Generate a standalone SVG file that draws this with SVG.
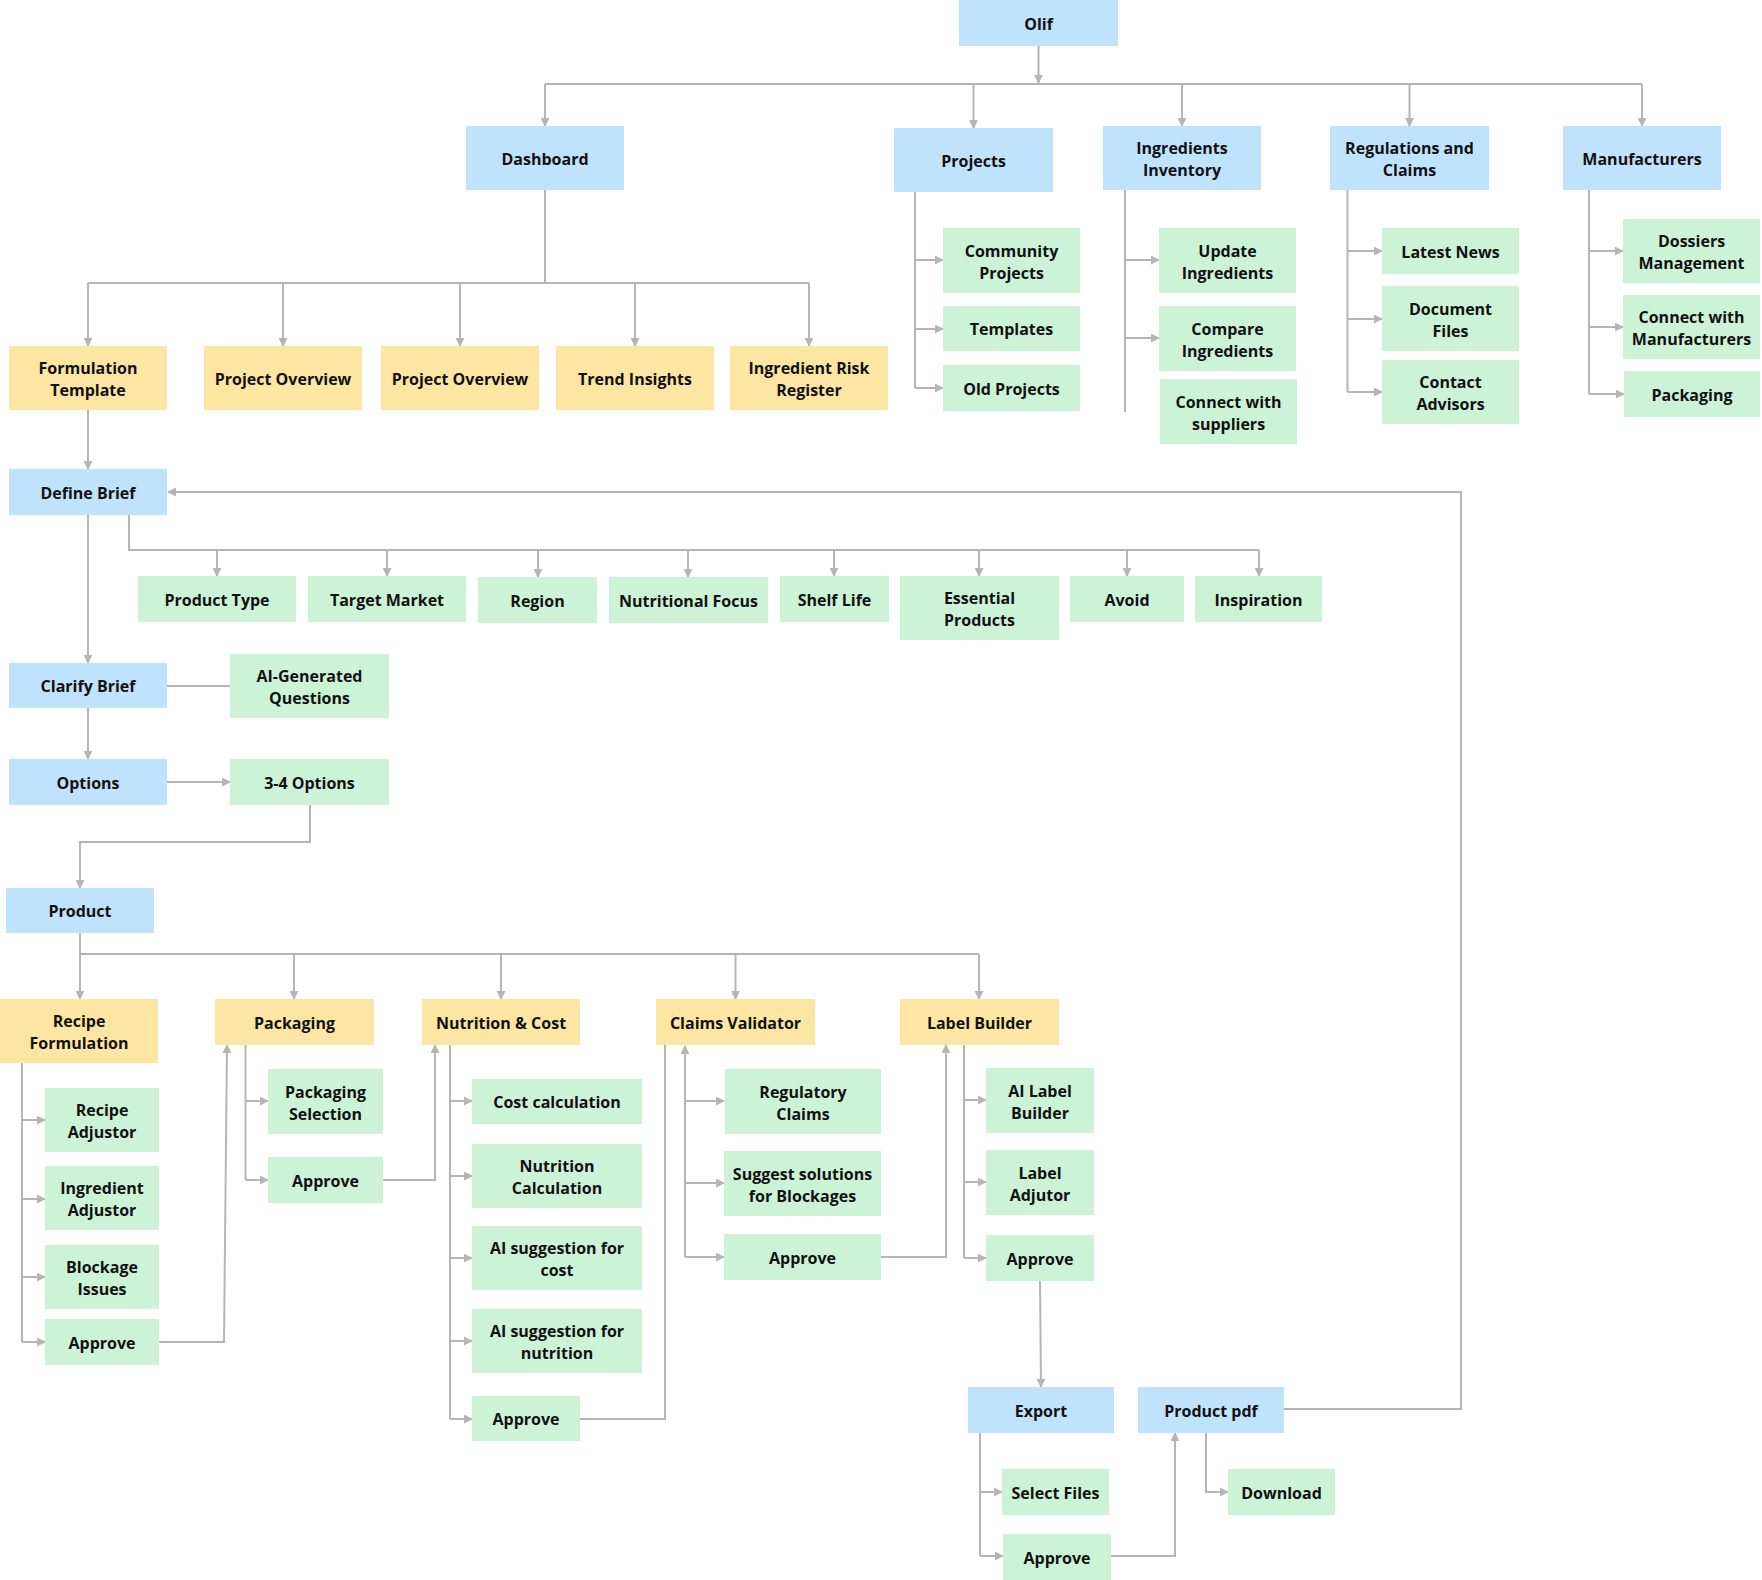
<svg xmlns="http://www.w3.org/2000/svg" width="1762" height="1580" viewBox="0 0 1762 1580">
<defs>
<marker id="ah" viewBox="0 0 10 10" refX="9" refY="5" markerWidth="9" markerHeight="9" markerUnits="userSpaceOnUse" orient="auto">
<path d="M0,0 L10,5 L0,10 z" fill="#b5b5b5"/>
</marker>
<style>
.b{fill:#bfe3fc}
.y{fill:#fde6a3}
.g{fill:#cdf3d6}
text{font-family:"Open Sans","Noto Sans","Liberation Sans",sans-serif;font-weight:700;font-size:16px;fill:#111;text-anchor:middle}
.c path,.c line{fill:none;stroke:#b5b5b5;stroke-width:2}
.a{marker-end:url(#ah)}
</style>
</defs>
<rect width="1762" height="1580" fill="#fff"/>

<g class="c" id="connectors">
<path class="a" d="M1038.5,46V83"/>
<path d="M545,84H1642"/>
<path class="a" d="M545,84V126"/>
<path class="a" d="M973.5,84V128"/>
<path class="a" d="M1182,84V126"/>
<path class="a" d="M1409.5,84V126"/>
<path class="a" d="M1642,84V126"/>

<path d="M545,190V283M88,283H809"/>
<path class="a" d="M88,283V346"/>
<path class="a" d="M283,283V346"/>
<path class="a" d="M460,283V346"/>
<path class="a" d="M635,283V346"/>
<path class="a" d="M809,283V346"/>

<path d="M915,192V388"/>
<path class="a" d="M915,260H943"/>
<path class="a" d="M915,329H943"/>
<path class="a" d="M915,388H943"/>

<path d="M1125,190V412"/>
<path class="a" d="M1125,260H1159"/>
<path class="a" d="M1125,338H1159"/>

<path d="M1347.5,190V392"/>
<path class="a" d="M1347.5,251H1382"/>
<path class="a" d="M1347.5,319H1382"/>
<path class="a" d="M1347.5,392H1382"/>

<path d="M1589,190V394"/>
<path class="a" d="M1589,251H1623"/>
<path class="a" d="M1589,327H1623"/>
<path class="a" d="M1589,394H1624"/>

<path class="a" d="M88,410V469"/>
<path d="M129,515V550H1259"/>
<path class="a" d="M217,550V576"/>
<path class="a" d="M387,550V576"/>
<path class="a" d="M538,550V577"/>
<path class="a" d="M688,550V577"/>
<path class="a" d="M834,550V576"/>
<path class="a" d="M979,550V576"/>
<path class="a" d="M1127,550V576"/>
<path class="a" d="M1259,550V576"/>

<path class="a" d="M88,515V663"/>
<path d="M167,686H230"/>
<path class="a" d="M88,708V759"/>
<path class="a" d="M167,782H230"/>
<path class="a" d="M310,805V842H80V888"/>

<path d="M80,933V954H979"/>
<path class="a" d="M80,954V999"/>
<path class="a" d="M294,954V999"/>
<path class="a" d="M501,954V999"/>
<path class="a" d="M735.5,954V999"/>
<path class="a" d="M979,954V999"/>

<path d="M22,1063V1342"/>
<path class="a" d="M22,1120H45"/>
<path class="a" d="M22,1199H45"/>
<path class="a" d="M22,1277H45"/>
<path class="a" d="M22,1342H45"/>
<path class="a" d="M159,1342H224L227,1045"/>

<path d="M245.5,1045V1180"/>
<path class="a" d="M245.5,1101H268"/>
<path class="a" d="M245.5,1180H268"/>
<path class="a" d="M383,1180H435V1045"/>

<path d="M450,1045V1419"/>
<path class="a" d="M450,1101H472"/>
<path class="a" d="M450,1176H472"/>
<path class="a" d="M450,1258H472"/>
<path class="a" d="M450,1341H472"/>
<path class="a" d="M450,1419H472"/>
<path d="M580,1419H665V1045"/>

<path class="a" d="M685,1257V1046"/>
<path class="a" d="M685,1101H724"/>
<path class="a" d="M685,1183H724"/>
<path class="a" d="M685,1257H724"/>
<path class="a" d="M881,1257H946V1045"/>

<path d="M964,1045V1258"/>
<path class="a" d="M964,1100H986"/>
<path class="a" d="M964,1182H986"/>
<path class="a" d="M964,1258H986"/>
<path class="a" d="M1040,1281L1041,1387"/>

<path d="M980,1433V1556"/>
<path class="a" d="M980,1492H1002"/>
<path class="a" d="M980,1556H1003"/>
<path class="a" d="M1111,1556H1175V1433"/>
<path class="a" d="M1206,1433V1492H1228"/>
<path class="a" d="M1284,1409H1461V492H168"/>
</g>

<g id="olif"><rect class="b" x="959" y="0" width="159" height="46"/><text x="1038.5" y="29.5">Olif</text></g>
<g id="dashboard"><rect class="b" x="466" y="126" width="158" height="64"/><text x="545" y="164.5">Dashboard</text></g>
<g id="projects"><rect class="b" x="894" y="128" width="159" height="64"/><text x="973.5" y="166.5">Projects</text></g>
<g id="ingredients-inventory"><rect class="b" x="1103" y="126" width="158" height="64"/><text x="1182" y="154">Ingredients</text><text x="1182" y="176">Inventory</text></g>
<g id="regulations-claims"><rect class="b" x="1330" y="126" width="159" height="64"/><text x="1409.5" y="154">Regulations and</text><text x="1409.5" y="176">Claims</text></g>
<g id="manufacturers"><rect class="b" x="1563" y="126" width="158" height="64"/><text x="1642" y="164.5">Manufacturers</text></g>

<g id="formulation-template"><rect class="y" x="9" y="346" width="158" height="64"/><text x="88" y="374">Formulation</text><text x="88" y="396">Template</text></g>
<g id="project-overview-1"><rect class="y" x="204" y="346" width="158" height="64"/><text x="283" y="384.5">Project Overview</text></g>
<g id="project-overview-2"><rect class="y" x="381" y="346" width="158" height="64"/><text x="460" y="384.5">Project Overview</text></g>
<g id="trend-insights"><rect class="y" x="556" y="346" width="158" height="64"/><text x="635" y="384.5">Trend Insights</text></g>
<g id="ingredient-risk-register"><rect class="y" x="730" y="346" width="158" height="64"/><text x="809" y="374">Ingredient Risk</text><text x="809" y="396">Register</text></g>

<g id="community-projects"><rect class="g" x="943" y="228" width="137" height="65"/><text x="1011.5" y="256.5">Community</text><text x="1011.5" y="278.5">Projects</text></g>
<g id="templates"><rect class="g" x="943" y="306" width="137" height="45"/><text x="1011.5" y="335">Templates</text></g>
<g id="old-projects"><rect class="g" x="943" y="365" width="137" height="46"/><text x="1011.5" y="394.5">Old Projects</text></g>

<g id="update-ingredients"><rect class="g" x="1159" y="228" width="137" height="65"/><text x="1227.5" y="256.5">Update</text><text x="1227.5" y="278.5">Ingredients</text></g>
<g id="compare-ingredients"><rect class="g" x="1159" y="306" width="137" height="65"/><text x="1227.5" y="334.5">Compare</text><text x="1227.5" y="356.5">Ingredients</text></g>
<g id="connect-suppliers"><rect class="g" x="1160" y="379" width="137" height="65"/><text x="1228.5" y="407.5">Connect with</text><text x="1228.5" y="429.5">suppliers</text></g>

<g id="latest-news"><rect class="g" x="1382" y="228" width="137" height="46"/><text x="1450.5" y="257.5">Latest News</text></g>
<g id="document-files"><rect class="g" x="1382" y="286" width="137" height="65"/><text x="1450.5" y="314.5">Document</text><text x="1450.5" y="336.5">Files</text></g>
<g id="contact-advisors"><rect class="g" x="1382" y="360" width="137" height="64"/><text x="1450.5" y="388">Contact</text><text x="1450.5" y="410">Advisors</text></g>

<g id="dossiers-management"><rect class="g" x="1623" y="219" width="137" height="64"/><text x="1691.5" y="247">Dossiers</text><text x="1691.5" y="269">Management</text></g>
<g id="connect-manufacturers"><rect class="g" x="1623" y="295" width="137" height="64"/><text x="1691.5" y="323">Connect with</text><text x="1691.5" y="345">Manufacturers</text></g>
<g id="packaging-m"><rect class="g" x="1624" y="371" width="136" height="46"/><text x="1692" y="400.5">Packaging</text></g>

<g id="define-brief"><rect class="b" x="9" y="469" width="158" height="46"/><text x="88" y="498.5">Define Brief</text></g>
<g id="product-type"><rect class="g" x="138" y="576" width="158" height="46"/><text x="217" y="605.5">Product Type</text></g>
<g id="target-market"><rect class="g" x="308" y="576" width="158" height="46"/><text x="387" y="605.5">Target Market</text></g>
<g id="region"><rect class="g" x="478" y="577" width="119" height="46"/><text x="537.5" y="606.5">Region</text></g>
<g id="nutritional-focus"><rect class="g" x="609" y="577" width="159" height="46"/><text x="688.5" y="606.5">Nutritional Focus</text></g>
<g id="shelf-life"><rect class="g" x="780" y="576" width="109" height="46"/><text x="834.5" y="605.5">Shelf Life</text></g>
<g id="essential-products"><rect class="g" x="900" y="576" width="159" height="64"/><text x="979.5" y="604">Essential</text><text x="979.5" y="626">Products</text></g>
<g id="avoid"><rect class="g" x="1070" y="576" width="114" height="46"/><text x="1127" y="605.5">Avoid</text></g>
<g id="inspiration"><rect class="g" x="1195" y="576" width="127" height="46"/><text x="1258.5" y="605.5">Inspiration</text></g>

<g id="clarify-brief"><rect class="b" x="9" y="663" width="158" height="45"/><text x="88" y="692">Clarify Brief</text></g>
<g id="ai-generated-questions"><rect class="g" x="230" y="654" width="159" height="64"/><text x="309.5" y="682">AI-Generated</text><text x="309.5" y="704">Questions</text></g>
<g id="options"><rect class="b" x="9" y="759" width="158" height="46"/><text x="88" y="788.5">Options</text></g>
<g id="three-four-options"><rect class="g" x="230" y="759" width="159" height="46"/><text x="309.5" y="788.5">3-4 Options</text></g>
<g id="product"><rect class="b" x="6" y="888" width="148" height="45"/><text x="80" y="917">Product</text></g>

<g id="recipe-formulation"><rect class="y" x="0" y="999" width="158" height="64"/><text x="79" y="1027">Recipe</text><text x="79" y="1049">Formulation</text></g>
<g id="packaging"><rect class="y" x="215" y="999" width="159" height="46"/><text x="294.5" y="1028.5">Packaging</text></g>
<g id="nutrition-cost"><rect class="y" x="422" y="999" width="158" height="46"/><text x="501" y="1028.5">Nutrition &amp; Cost</text></g>
<g id="claims-validator"><rect class="y" x="656" y="999" width="159" height="46"/><text x="735.5" y="1028.5">Claims Validator</text></g>
<g id="label-builder"><rect class="y" x="900" y="999" width="159" height="46"/><text x="979.5" y="1028.5">Label Builder</text></g>

<g id="recipe-adjustor"><rect class="g" x="45" y="1088" width="114" height="64"/><text x="102" y="1116">Recipe</text><text x="102" y="1138">Adjustor</text></g>
<g id="ingredient-adjustor"><rect class="g" x="45" y="1166" width="114" height="64"/><text x="102" y="1194">Ingredient</text><text x="102" y="1216">Adjustor</text></g>
<g id="blockage-issues"><rect class="g" x="45" y="1245" width="114" height="64"/><text x="102" y="1273">Blockage</text><text x="102" y="1295">Issues</text></g>
<g id="approve-recipe"><rect class="g" x="45" y="1319" width="114" height="46"/><text x="102" y="1348.5">Approve</text></g>

<g id="packaging-selection"><rect class="g" x="268" y="1069" width="115" height="65"/><text x="325.5" y="1097.5">Packaging</text><text x="325.5" y="1119.5">Selection</text></g>
<g id="approve-packaging"><rect class="g" x="268" y="1157" width="115" height="46"/><text x="325.5" y="1186.5">Approve</text></g>

<g id="cost-calculation"><rect class="g" x="472" y="1079" width="170" height="45"/><text x="557" y="1108">Cost calculation</text></g>
<g id="nutrition-calculation"><rect class="g" x="472" y="1144" width="170" height="64"/><text x="557" y="1172">Nutrition</text><text x="557" y="1194">Calculation</text></g>
<g id="ai-suggestion-cost"><rect class="g" x="472" y="1226" width="170" height="64"/><text x="557" y="1254">AI suggestion for</text><text x="557" y="1276">cost</text></g>
<g id="ai-suggestion-nutrition"><rect class="g" x="472" y="1309" width="170" height="64"/><text x="557" y="1337">AI suggestion for</text><text x="557" y="1359">nutrition</text></g>
<g id="approve-nutrition"><rect class="g" x="472" y="1396" width="108" height="45"/><text x="526" y="1425">Approve</text></g>

<g id="regulatory-claims"><rect class="g" x="725" y="1069" width="156" height="65"/><text x="803" y="1097.5">Regulatory</text><text x="803" y="1119.5">Claims</text></g>
<g id="suggest-solutions"><rect class="g" x="724" y="1151" width="157" height="65"/><text x="802.5" y="1179.5">Suggest solutions</text><text x="802.5" y="1201.5">for Blockages</text></g>
<g id="approve-claims"><rect class="g" x="724" y="1234" width="157" height="46"/><text x="802.5" y="1263.5">Approve</text></g>

<g id="ai-label-builder"><rect class="g" x="986" y="1068" width="108" height="65"/><text x="1040" y="1096.5">AI Label</text><text x="1040" y="1118.5">Builder</text></g>
<g id="label-adjutor"><rect class="g" x="986" y="1150" width="108" height="65"/><text x="1040" y="1178.5">Label</text><text x="1040" y="1200.5">Adjutor</text></g>
<g id="approve-label"><rect class="g" x="986" y="1235" width="108" height="46"/><text x="1040" y="1264.5">Approve</text></g>

<g id="export"><rect class="b" x="968" y="1387" width="146" height="46"/><text x="1041" y="1416.5">Export</text></g>
<g id="product-pdf"><rect class="b" x="1138" y="1387" width="146" height="46"/><text x="1211" y="1416.5">Product pdf</text></g>
<g id="select-files"><rect class="g" x="1002" y="1469" width="107" height="46"/><text x="1055.5" y="1498.5">Select Files</text></g>
<g id="approve-export"><rect class="g" x="1003" y="1534" width="108" height="46"/><text x="1057" y="1563.5">Approve</text></g>
<g id="download"><rect class="g" x="1228" y="1469" width="107" height="46"/><text x="1281.5" y="1498.5">Download</text></g>
</svg>
